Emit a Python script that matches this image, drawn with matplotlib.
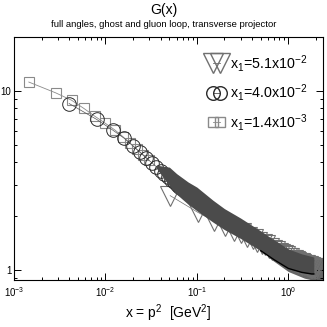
import matplotlib
matplotlib.use("Agg")
import matplotlib.pyplot as plt
from matplotlib.lines import Line2D
from matplotlib.ticker import LogLocator, FixedLocator, FixedFormatter, NullFormatter

plt.rcParams["font.family"] = ["Liberation Sans", "DejaVu Sans"]
plt.rcParams["mathtext.fontset"] = "custom"
plt.rcParams["mathtext.rm"] = "Liberation Sans"
plt.rcParams["mathtext.it"] = "Liberation Sans:italic"

# x1 = 1.4e-3 series (squares), resolved points
sq_x = [1.45e-3, 2.85e-3, 4.25e-3, 5.8e-3, 7.6e-3, 1.0e-2, 1.27e-2, 1.55e-2, 1.85e-2, 2.2e-2, 2.6e-2, 3.0e-2]
sq_y = [11.2, 9.75, 8.87, 7.98, 7.23, 6.58, 6.04, 5.55, 5.12, 4.72, 4.38, 4.1]

# x1 = 4.0e-3 series (circles), resolved points
ci_x = [0.004, 0.008, 0.012, 0.016, 0.020, 0.024, 0.028, 0.032, 0.036, 0.040,
        0.044, 0.048, 0.052, 0.056, 0.060, 0.064, 0.068]
ci_y = [8.5, 6.93, 6.04, 5.44, 4.92, 4.53, 4.21, 3.98, 3.77, 3.59,
        3.44, 3.31, 3.19, 3.08, 2.98, 2.90, 2.82]

# x1 = 5.1e-2 series (triangles)
tr_x = [0.051, 0.102, 0.153, 0.204, 0.255, 0.306, 0.357, 0.408, 0.459, 0.510,
        0.561, 0.612, 0.663, 0.714, 0.765, 0.816, 0.867, 0.918, 0.969, 1.020,
        1.071, 1.122, 1.173, 1.224, 1.275, 1.326, 1.377, 1.428, 1.479, 1.530,
        1.581, 1.632, 1.683, 1.734, 1.785, 1.836, 1.887, 1.938, 1.989]
tr_y = [2.60, 2.10, 1.88, 1.76, 1.66, 1.60, 1.53, 1.48, 1.44, 1.40,
        1.37, 1.33, 1.30, 1.27, 1.25, 1.23, 1.21, 1.19, 1.17, 1.16,
        1.14, 1.13, 1.12, 1.11, 1.10, 1.09, 1.08, 1.07, 1.07, 1.06,
        1.05, 1.05, 1.04, 1.04, 1.03, 1.03, 1.02, 1.02, 1.01]

# dense overlapping markers (squares + circles) read as a band
band_x = [0.036, 0.05, 0.06, 0.08, 0.1, 0.15, 0.2, 0.3, 0.5, 0.7, 1.0, 1.4, 1.8, 1.9]
band_hi = [3.85, 3.75, 3.45, 3.1, 2.9, 2.45, 2.2, 1.95, 1.65, 1.47, 1.31, 1.23, 1.19, 1.18]
band_lo = [3.7, 2.95, 2.65, 2.33, 2.14, 1.85, 1.68, 1.5, 1.28, 1.14, 1.02, 0.97, 0.95, 0.95]

# tail of the square series beyond the circles
tail_x = [0.6, 1.0, 1.5, 2.0, 2.4]
tail_hi = [1.42, 1.27, 1.2, 1.18, 1.17]
tail_lo = [1.18, 0.98, 0.9, 0.87, 0.87]

fig = plt.figure(figsize=(3.27, 3.27), dpi=100)
ax = fig.add_axes([0.043, 0.144, 0.945, 0.743])

ax.fill_between(tail_x, tail_lo, tail_hi, color="#666666", lw=0, zorder=1)
ax.plot(sq_x, sq_y, color="#8a8a8a", lw=0.6, marker="s", ms=7.4, mfc="none",
        mec="#8a8a8a", mew=0.8, zorder=2)
ax.fill_between(band_x, band_lo, band_hi, color="#4b4b4b", lw=0, zorder=3)
ax.plot(ci_x, ci_y, color="#555555", lw=0.5, marker="o", ms=9.8, mfc="none",
        mec="#2a2a2a", mew=0.7, zorder=2.8)
ax.plot(band_x[8:], band_lo[8:], color="black", lw=1.0, zorder=5)
ax.plot(tr_x, tr_y, color="#707070", lw=0.5, marker="v", ms=14, mfc="none",
        mec="#707070", mew=0.8, zorder=2.5)

ax.set_xscale("log")
ax.set_yscale("log")
ax.set_xlim(1e-3, 2.4)
ax.set_ylim(0.88, 20)

ax.xaxis.set_major_locator(LogLocator(base=10, numticks=10))
ax.xaxis.set_minor_locator(LogLocator(base=10, subs=range(2, 10), numticks=20))
ax.xaxis.set_minor_formatter(NullFormatter())
ax.yaxis.set_major_locator(FixedLocator([1, 10]))
ax.yaxis.set_major_formatter(FixedFormatter(["1", "10"]))
ax.yaxis.set_minor_locator(LogLocator(base=10, subs=range(2, 10), numticks=20))
ax.yaxis.set_minor_formatter(NullFormatter())
ax.tick_params(which="both", direction="in", top=True, right=True, width=0.7)
ax.tick_params(which="major", length=5, labelsize=7, pad=4)
ax.tick_params(which="minor", length=2.5)
ax.tick_params(axis="y", pad=2)

ax.set_xlabel(r"x = p$^2$  [GeV$^2$]", fontsize=10, labelpad=2)
fig.text(0.5, 0.968, "G(x)", ha="center", va="center", fontsize=10)
fig.text(0.5, 0.925, "full angles, ghost and gluon loop, transverse projector",
         ha="center", va="center", fontsize=6.8)

handles = [
    Line2D([], [], color="#707070", lw=0.6, marker="v", ms=14, mfc="none", mec="#707070"),
    Line2D([], [], color="#555555", lw=0.6, marker="o", ms=9.8, mfc="none", mec="#2a2a2a"),
    Line2D([], [], color="#8a8a8a", lw=0.6, marker="s", ms=7.4, mfc="none", mec="#8a8a8a"),
]
labels = [r"x$_1$=5.1x10$^{-2}$", r"x$_1$=4.0x10$^{-2}$", r"x$_1$=1.4x10$^{-3}$"]
ax.legend(handles, labels, loc="upper right", frameon=False, fontsize=10.3,
          numpoints=2, handlelength=1.1, handletextpad=0.4, labelspacing=0.6,
          borderaxespad=0.7)

fig.savefig("out.png", dpi=100)
